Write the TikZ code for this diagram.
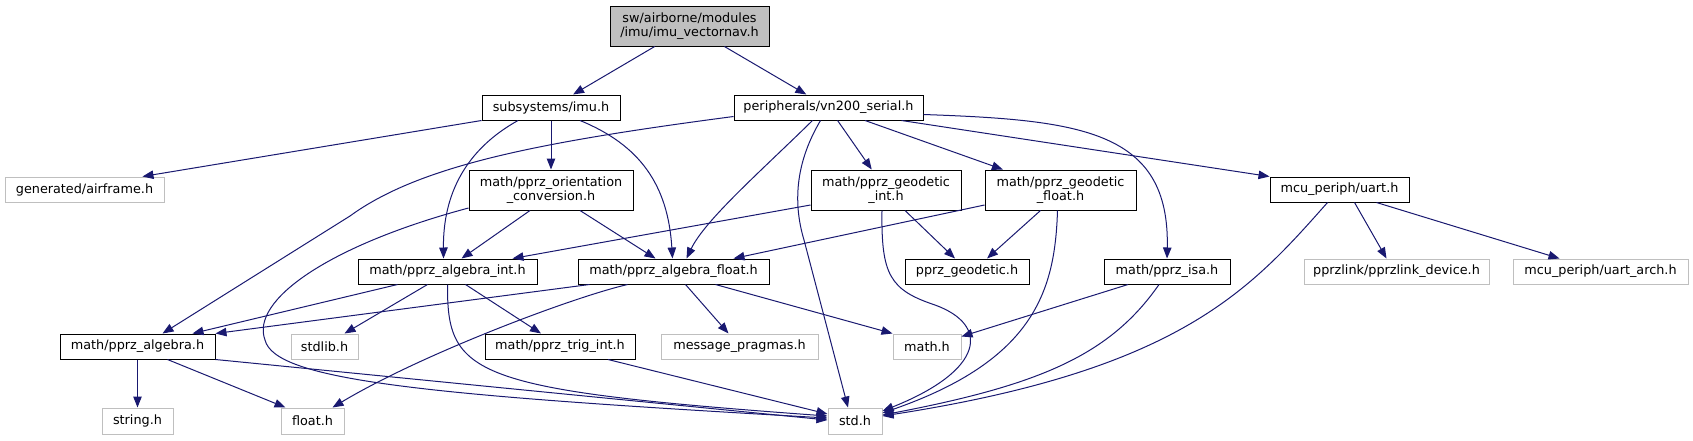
\documentclass[tikz,border=0pt]{standalone}
\usepackage{fontspec}
\setmainfont{DejaVu Sans}
\usetikzlibrary{arrows.meta}
\definecolor{midnight}{RGB}{25,25,112}
\definecolor{boxgray}{RGB}{191,191,191}
\tikzset{
  inc/.style={draw=black, line width=1pt, inner sep=0pt, align=center,
    font=\fontsize{12.8}{14.5}\selectfont},
  sysinc/.style={inc, draw=boxgray},
  rootinc/.style={inc, fill=boxgray},
  dep/.style={draw=midnight, line width=1pt, -{Triangle[length=11pt,width=8.5pt]}}
}
\begin{document}
\begin{tikzpicture}[x=1pt, y=-1pt]

  %% ════ 节点（box 中心 + 尺寸）════
  \node[rootinc, minimum width=159pt, minimum height=40pt] (root) at (689.5,26) {sw/airborne/modules\\/imu/imu\_vectornav.h};
  \node[inc, minimum width=138pt, minimum height=25pt] (subsys) at (551,107.5) {subsystems/imu.h};
  \node[inc, minimum width=189pt, minimum height=25pt] (vnser) at (828.5,107.5) {peripherals/vn200\_serial.h};
  \node[sysinc, minimum width=159pt, minimum height=25pt] (airframe) at (84.5,189.5) {generated/airframe.h};
  \node[inc, minimum width=164pt, minimum height=40pt] (orient) at (551,190) {math/pprz\_orientation\\\_conversion.h};
  \node[inc, minimum width=150pt, minimum height=40pt] (geoint) at (886,190) {math/pprz\_geodetic\\\_int.h};
  \node[inc, minimum width=151pt, minimum height=40pt] (geofloat) at (1060.5,190) {math/pprz\_geodetic\\\_float.h};
  \node[inc, minimum width=139pt, minimum height=25pt] (uart) at (1339.5,189.5) {mcu\_periph/uart.h};
  \node[inc, minimum width=179pt, minimum height=25pt] (algint) at (447.5,271.5) {math/pprz\_algebra\_int.h};
  \node[inc, minimum width=191pt, minimum height=25pt] (algfloat) at (673.5,271.5) {math/pprz\_algebra\_float.h};
  \node[inc, minimum width=124pt, minimum height=25pt] (geodetic) at (967,271.5) {pprz\_geodetic.h};
  \node[inc, minimum width=126pt, minimum height=25pt] (isa) at (1167,271.5) {math/pprz\_isa.h};
  \node[sysinc, minimum width=185pt, minimum height=25pt] (pprzlink) at (1396.5,271.5) {pprzlink/pprzlink\_device.h};
  \node[sysinc, minimum width=175pt, minimum height=25pt] (uartarch) at (1600.5,271.5) {mcu\_periph/uart\_arch.h};
  \node[inc, minimum width=155pt, minimum height=25pt] (algebra) at (137.5,346.5) {math/pprz\_algebra.h};
  \node[sysinc, minimum width=67pt, minimum height=25pt] (stdlib) at (324.5,346.5) {stdlib.h};
  \node[inc, minimum width=150pt, minimum height=25pt] (trigint) at (560,346.5) {math/pprz\_trig\_int.h};
  \node[sysinc, minimum width=157pt, minimum height=25pt] (pragmas) at (739.5,346.5) {message\_pragmas.h};
  \node[sysinc, minimum width=68pt, minimum height=25pt] (mathh) at (927,346.5) {math.h};
  \node[sysinc, minimum width=71pt, minimum height=26pt] (stringh) at (137.5,421) {string.h};
  \node[sysinc, minimum width=63pt, minimum height=26pt] (floath) at (312.5,421) {float.h};
  \node[sysinc, minimum width=54pt, minimum height=26pt] (stdh) at (855,421) {std.h};

  %% ════ 直线依赖 ════
  \draw[dep] (root) -- (subsys);
  \draw[dep] (root) -- (vnser);
  \draw[dep] (subsys.south west) -- ([xshift=-22pt]airframe.north east);
  \draw[dep] (subsys) -- (orient);
  \draw[dep] ([xshift=73pt]vnser.south) -- (uart.north west);
  \draw[dep] (vnser) -- (geoint);
  \draw[dep] (vnser) -- (geofloat);
  \draw[dep] ([xshift=-21pt]orient.south) -- ([xshift=14pt]algint.north);
  \draw[dep] ([xshift=29pt]orient.south) -- ([xshift=-18pt]algfloat.north);
  \draw[dep] ([yshift=-15pt]geoint.west) -- ([xshift=65pt]algint.north);
  \draw[dep] ([xshift=19pt]geoint.south) -- ([xshift=-12pt]geodetic.north);
  \draw[dep] ([yshift=-15pt]geofloat.west) -- ([xshift=60pt]algfloat.north);
  \draw[dep] ([xshift=-20pt]geofloat.south) -- ([xshift=20pt]geodetic.north);
  \draw[dep] ([xshift=15pt]uart.south) -- ([xshift=-10pt]pprzlink.north);
  \draw[dep] ([xshift=37pt]uart.south) -- ([xshift=-41pt]uartarch.north);
  \draw[dep] ([xshift=-50pt]algint.south) -- ([xshift=55pt]algebra.north);
  \draw[dep] ([xshift=-20pt]algint.south) -- ([xshift=20pt]stdlib.north);
  \draw[dep] ([xshift=18pt]algint.south) -- ([xshift=-19pt]trigint.north);
  \draw[dep] ([xshift=-84pt]algfloat.south) -- (algebra.north east);
  \draw[dep] ([xshift=12pt]algfloat.south) -- ([xshift=-11pt]pragmas.north);
  \draw[dep] ([xshift=42pt]algfloat.south) -- (mathh.north west);
  \draw[dep] ([xshift=-39pt]isa.south) -- ([yshift=10pt]mathh.east);
  \draw[dep] (algebra) -- (stringh);
  \draw[dep] ([xshift=30pt]algebra.south) -- ([xshift=-27pt]floath.north);
  \draw[dep] (algebra.south east) -- ([yshift=1pt]stdh.west);
  \draw[dep] ([xshift=48pt]trigint.south) -- ([yshift=7pt]stdh.west);

  %% ════ 曲线依赖 ════
  \draw[dep] ([xshift=-33pt]subsys.south) .. controls (465,150) and (443,195) .. ([xshift=-4pt]algint.north);
  \draw[dep] ([xshift=29pt]subsys.south) .. controls (640,145) and (668,185) .. ([xshift=-1pt]algfloat.north);
  \draw[dep] ([yshift=-9pt]vnser.west) .. controls (540,142) and (420,165) .. (350,216) -- ([xshift=25pt]algebra.north);
  \draw[dep] ([xshift=-16pt]vnser.south) .. controls (760,172) and (705,220) .. ([xshift=13pt]algfloat.north);
  \draw[dep] ([xshift=-8pt]vnser.south) .. controls (797,160) and (792,200) .. (804,240) -- ([xshift=-7pt]stdh.north);
  \draw[dep] ([yshift=-7pt]vnser.east) .. controls (1080,120) and (1170,130) .. (isa.north);
  \draw[dep] ([yshift=-18pt]orient.west) .. controls (330,245) and (250,300) .. (265,340)
     .. controls (275,380) and (420,395) .. ([yshift=3pt]stdh.west);
  \draw[dep] ([xshift=-4pt]geoint.south) .. controls (881,275) and (890,290) .. (935,305)
     .. controls (990,325) and (985,370) .. ([yshift=10pt]stdh.east);
  \draw[dep] ([xshift=-3pt]geofloat.south) .. controls (1055,290) and (1035,360) .. ([yshift=8pt]stdh.east);
  \draw[dep] (algint.south) .. controls (447,375) and (470,390) .. ([yshift=5pt]stdh.west);
  \draw[dep] ([xshift=-46pt]algfloat.south) .. controls (570,298) and (420,355) .. ([xshift=20pt]floath.north);
  \draw[dep] ([xshift=-8pt]isa.south) .. controls (1110,355) and (1040,385) .. ([yshift=6pt]stdh.east);
  \draw[dep] ([xshift=-12pt]uart.south) .. controls (1250,290) and (1180,370) .. ([yshift=5pt]stdh.east);

  % 钉死画布
  \pgfresetboundingbox
  \path[use as bounding box] (0,0) rectangle (1693,440);
\end{tikzpicture}
\end{document}
